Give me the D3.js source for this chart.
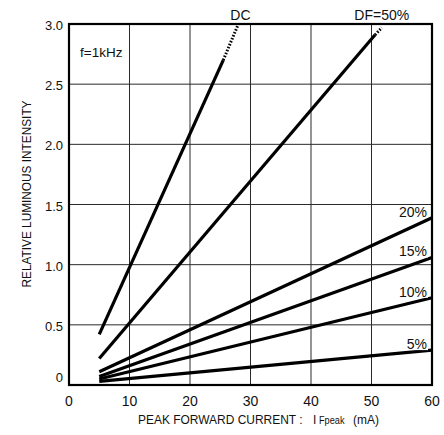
<!DOCTYPE html>
<html>
<head>
<meta charset="utf-8">
<script src="https://cdn.jsdelivr.net/npm/d3@7"></script>
<style>
  html, body { margin: 0; padding: 0; background: #fff; }
  svg text { font-family: "Liberation Sans", Arial, Helvetica, sans-serif; fill: #111; }
</style>
</head>
<body>
<svg id="chart" width="444" height="435"></svg>
<script>
// Relative luminous intensity vs. peak forward current at various duty factors (f = 1 kHz)
const seriesNames   = ["DC", "DF=50%", "20%", "15%", "10%", "5%"];
const startCurrent  = [5, 5, 5, 5, 5, 5];               // mA
const endCurrent    = [25.5, 50.6, 60, 60, 60, 60];     // mA, end of the solid segment
const startValue    = [0.42, 0.22, 0.11, 0.07, 0.05, 0.03];
const endValue      = [2.70, 2.91, 1.39, 1.06, 0.725, 0.29];
// dotted extrapolation beyond the rated range
const dottedEndCurrent = [28, 51.7, null, null, null, null];
const dottedEndValue   = [3.0, 2.97, null, null, null, null];

const xTicks = [0, 10, 20, 30, 40, 50, 60];
const yTicks = [0, 0.5, 1.0, 1.5, 2.0, 2.5, 3.0];
const yTickLabels = ["0", "0.5", "1.0", "1.5", "2.0", "2.5", "3.0"];

const svg = d3.select("#chart");
const x = d3.scaleLinear().domain([0, 60]).range([69, 432]);
const y = d3.scaleLinear().domain([0, 3]).range([385, 24]);

// grid
const grid = svg.append("g").attr("stroke", "#2a2a2a").attr("stroke-width", 1);
grid.selectAll("line.v").data(xTicks.slice(1, -1)).join("line")
  .attr("x1", d => x(d)).attr("x2", d => x(d))
  .attr("y1", y(3)).attr("y2", y(0));
grid.selectAll("line.h").data(yTicks.slice(1, -1)).join("line")
  .attr("x1", x(0)).attr("x2", x(60))
  .attr("y1", d => y(d)).attr("y2", d => y(d));

// series lines
const lineGen = d3.line().x(d => x(d[0])).y(d => y(d[1]));
const lines = svg.append("g").attr("fill", "none").attr("stroke", "#000").attr("stroke-linecap", "butt");
seriesNames.forEach((name, i) => {
  lines.append("path")
    .attr("d", lineGen([[startCurrent[i], startValue[i]], [endCurrent[i], endValue[i]]]))
    .attr("stroke-width", 3.2);
  if (dottedEndCurrent[i] != null) {
    lines.append("path")
      .attr("d", lineGen([[endCurrent[i], endValue[i]], [dottedEndCurrent[i], dottedEndValue[i]]]))
      .attr("stroke-width", 3)
      .attr("stroke-dasharray", "1.6,1.6");
  }
});

// frame
svg.append("rect")
  .attr("x", x(0)).attr("y", y(3))
  .attr("width", x(60) - x(0)).attr("height", y(0) - y(3))
  .attr("fill", "none").attr("stroke", "#000").attr("stroke-width", 2.2);

// y tick labels
svg.append("g").selectAll("text").data(yTicks).join("text")
  .attr("x", 63)
  .attr("y", d => d === 0 ? y(d) - 3 : y(d) + 6)
  .attr("text-anchor", "end")
  .attr("font-size", 13)
  .text((d, i) => yTickLabels[i]);

// x tick labels
svg.append("g").selectAll("text").data(xTicks).join("text")
  .attr("x", d => x(d))
  .attr("y", 406)
  .attr("text-anchor", "middle")
  .attr("font-size", 14)
  .text(d => d);

// duty-factor labels at the right edge
const rightLabels = svg.append("g");
seriesNames.forEach((name, i) => {
  if (endCurrent[i] !== 60) return;
  const tx = x(60) - 5;
  const ty = y(endValue[i]) - 1;
  const t = rightLabels.append("text")
    .attr("x", tx).attr("y", ty)
    .attr("text-anchor", "end")
    .attr("font-size", 14)
    .text(name);
  const bb = t.node().getBBox();
  rightLabels.insert("rect", "text")
    .attr("x", bb.x - 1).attr("y", bb.y + 2)
    .attr("width", bb.width + 2).attr("height", bb.height - 4)
    .attr("fill", "#fff");
});

// labels above the top of the frame
seriesNames.forEach((name, i) => {
  if (dottedEndCurrent[i] == null) return;
  svg.append("text")
    .attr("x", x(dottedEndCurrent[i]) + (i === 0 ? 2 : 0))
    .attr("y", 20)
    .attr("text-anchor", "middle")
    .attr("font-size", 14)
    .text(name);
});

// frequency note
svg.append("text")
  .attr("x", 80).attr("y", 57)
  .attr("font-size", 13.5)
  .text("f=1kHz");

// axis titles
svg.append("text")
  .attr("transform", "translate(31,194) rotate(-90)")
  .attr("text-anchor", "middle")
  .attr("font-size", 13)
  .attr("textLength", 187)
  .attr("lengthAdjust", "spacingAndGlyphs")
  .text("RELATIVE LUMINOUS INTENSITY");

// x title in a horizontally condensed group
const squeeze = 0.92;
const xTitle = svg.append("g")
  .attr("transform", `translate(138,424) scale(${squeeze},1)`)
  .append("text")
  .attr("x", 0).attr("y", 0)
  .attr("font-size", 13);
xTitle.append("tspan").text("PEAK FORWARD CURRENT :");
xTitle.append("tspan").attr("x", (313 - 138) / squeeze).text("I");
xTitle.append("tspan").attr("x", (319 - 138) / squeeze).attr("font-size", 10).text("Fpeak");
xTitle.append("tspan").attr("x", (353 - 138) / squeeze).text("(mA)");
</script>
</body>
</html>
